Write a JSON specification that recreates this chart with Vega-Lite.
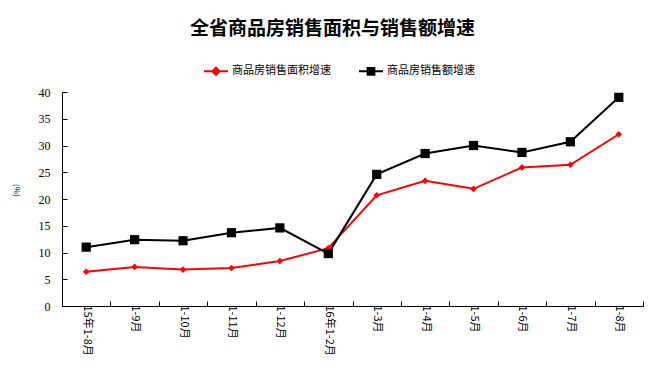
{
  "$schema": "https://vega.github.io/schema/vega-lite/v6.json",
  "width": 581,
  "height": 214,
  "autosize": {"type": "none"},
  "padding": {"left": 62, "top": 92, "right": 20, "bottom": 78},
  "background": "white",
  "title": {
    "text": "全省商品房销售面积与销售额增速",
    "font": "Noto Sans CJK SC",
    "fontSize": 19,
    "fontWeight": "bold",
    "color": "#000000",
    "anchor": "middle",
    "dx": -20,
    "offset": 19
  },
  "config": {
    "view": {"stroke": null},
    "axis": {"grid": false}
  },
  "data": {
    "values": [
      {"cat": "15年1-8月", "series": "商品房销售面积增速", "value": 6.4},
      {"cat": "1-9月", "series": "商品房销售面积增速", "value": 7.3},
      {"cat": "1-10月", "series": "商品房销售面积增速", "value": 6.8},
      {"cat": "1-11月", "series": "商品房销售面积增速", "value": 7.1},
      {"cat": "1-12月", "series": "商品房销售面积增速", "value": 8.4},
      {"cat": "16年1-2月", "series": "商品房销售面积增速", "value": 10.8},
      {"cat": "1-3月", "series": "商品房销售面积增速", "value": 20.7},
      {"cat": "1-4月", "series": "商品房销售面积增速", "value": 23.4},
      {"cat": "1-5月", "series": "商品房销售面积增速", "value": 21.9},
      {"cat": "1-6月", "series": "商品房销售面积增速", "value": 25.9},
      {"cat": "1-7月", "series": "商品房销售面积增速", "value": 26.4},
      {"cat": "1-8月", "series": "商品房销售面积增速", "value": 32.1},
      {"cat": "15年1-8月", "series": "商品房销售额增速", "value": 11.0},
      {"cat": "1-9月", "series": "商品房销售额增速", "value": 12.4},
      {"cat": "1-10月", "series": "商品房销售额增速", "value": 12.2},
      {"cat": "1-11月", "series": "商品房销售额增速", "value": 13.7},
      {"cat": "1-12月", "series": "商品房销售额增速", "value": 14.6},
      {"cat": "16年1-2月", "series": "商品房销售额增速", "value": 9.8},
      {"cat": "1-3月", "series": "商品房销售额增速", "value": 24.6},
      {"cat": "1-4月", "series": "商品房销售额增速", "value": 28.5},
      {"cat": "1-5月", "series": "商品房销售额增速", "value": 30.0},
      {"cat": "1-6月", "series": "商品房销售额增速", "value": 28.7},
      {"cat": "1-7月", "series": "商品房销售额增速", "value": 30.7},
      {"cat": "1-8月", "series": "商品房销售额增速", "value": 39.0}
    ]
  },
  "encoding": {
    "x": {
      "field": "cat",
      "type": "nominal",
      "sort": null,
      "scale": {"paddingInner": 0, "paddingOuter": 0},
      "axis": {
        "title": null,
        "labelAngle": 90,
        "labelAlign": "left",
        "labelBaseline": "middle",
        "labelFont": "Noto Sans CJK SC",
        "labelFontSize": 11,
        "labelColor": "#000000",
        "labelPadding": 4,
        "tickBand": "extent",
        "tickSize": -5,
        "tickColor": "#000000",
        "domainColor": "#000000",
        "labelOverlap": false
      }
    },
    "y": {
      "field": "value",
      "type": "quantitative",
      "scale": {"domain": [0, 40], "nice": false},
      "axis": {
        "values": [0, 5, 10, 15, 20, 25, 30, 35, 40],
        "title": "(%)",
        "titleAngle": 90,
        "titleFontSize": 8,
        "titleFont": "Noto Sans CJK SC",
        "titleFontWeight": "normal",
        "titleX": -51,
        "titleY": 98,
        "labelFont": "Liberation Serif",
        "labelFontSize": 12,
        "labelColor": "#000000",
        "labelPadding": 17,
        "tickSize": -5,
        "tickColor": "#000000",
        "domainColor": "#000000"
      }
    },
    "color": {
      "field": "series",
      "type": "nominal",
      "sort": ["商品房销售面积增速", "商品房销售额增速"],
      "scale": {"domain": ["商品房销售面积增速", "商品房销售额增速"], "range": ["#ff0000", "#000000"]},
      "legend": {
        "title": null,
        "orient": "none",
        "direction": "horizontal",
        "legendX": 141,
        "legendY": -34,
        "padding": 0,
        "symbolSize": 576,
        "symbolStrokeWidth": 2,
        "labelFont": "Noto Sans CJK SC",
        "labelFontSize": 11,
        "labelColor": "#000000",
        "labelOffset": 3,
        "columnPadding": 24,
        "encode": {
          "symbols": {
            "update": {
              "shape": {"signal": "datum.value === '商品房销售面积增速' ? 'M-1,0L1,0M0,-0.3L0.3,0L0,0.3L-0.3,0Z' : 'M-1,0L1,0M-0.28,-0.28L0.28,-0.28L0.28,0.28L-0.28,0.28Z'"},
              "fill": {"signal": "scale('color', datum.value)"},
              "stroke": {"signal": "scale('color', datum.value)"},
              "strokeWidth": {"value": 2},
              "size": {"value": 576}
            }
          }
        }
      }
    }
  },
  "layer": [
    {
      "mark": {"type": "line", "strokeWidth": 2}
    },
    {
      "transform": [{"filter": "datum.series === '商品房销售面积增速'"}],
      "mark": {"type": "point", "filled": true, "opacity": 1, "shape": "diamond", "size": 45}
    },
    {
      "transform": [{"filter": "datum.series === '商品房销售额增速'"}],
      "mark": {"type": "point", "filled": true, "opacity": 1, "shape": "square", "size": 85}
    }
  ]
}
